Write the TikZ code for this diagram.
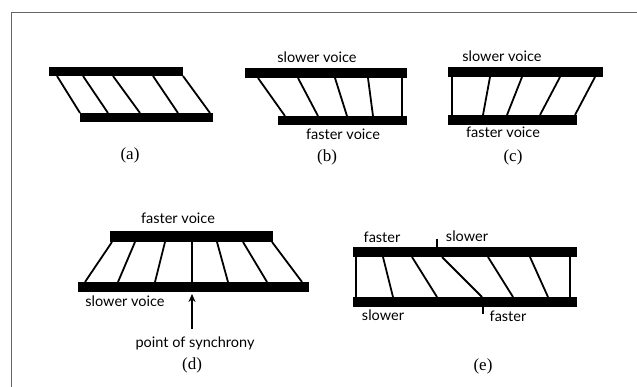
\documentclass[tikz,border=0pt]{standalone}
\usepackage{fontspec}
\setmainfont{Liberation Serif}
\newfontfamily\lblfont{Lato}
\usetikzlibrary{arrows.meta}
\begin{document}
\begin{tikzpicture}[x=1pt,y=-1pt,
  bar/.style={fill=black},
  strut/.style={draw=black,line width=1.8pt},
  lbl/.style={font=\lblfont\fontsize{14.5}{16}\selectfont,inner sep=0pt},
  captext/.style={font=\fontsize{17}{19}\selectfont,inner sep=0pt},
  frame/.style={draw=black!60,line width=1.5pt}]
\useasboundingbox (0,0) rectangle (637,387);
\draw[frame] (11.5,387) -- (11.5,12.5) -- (637,12.5);
% (a)
\fill[bar] (49,67) rectangle (183,76);
\fill[bar] (80,113) rectangle (213,122);
\foreach \a/\b in {57/80,83/108,113/140,153/178,183/210}
  \draw[strut] (\a,76) -- (\b,113);
\node[captext] (capa) at (130,155) {(a)};
% (b)
\fill[bar] (245,68) rectangle (407,78);
\fill[bar] (278,116) rectangle (407,125);
\foreach \a/\b in {258/285,298/318,335/347,368/373,402/402}
  \draw[strut] (\a,78) -- (\b,116);
\node[lbl] (bs) at (317,57) {slower voice};
\node[lbl] (bf) at (343,134) {faster voice};
\node[captext] (capb) at (327,157) {(b)};
% (c)
\fill[bar] (448,67) rectangle (603,77);
\fill[bar] (448,115) rectangle (577,125);
\foreach \a/\b in {452/452,490/483,522/507,560/540,595/575}
  \draw[strut] (\a,77) -- (\b,115);
\node[lbl] (cs) at (502,56) {slower voice};
\node[lbl] (cf) at (503,132) {faster voice};
\node[captext] (capc) at (513,157) {(c)};
% (d)
\fill[bar] (110,231) rectangle (273,242);
\fill[bar] (78,282) rectangle (309,292);
\foreach \a/\b in {112/85,135/118,165/155,192/192,217/228,243/267,272/302}
  \draw[strut] (\a,242) -- (\b,282);
\node[lbl] (df) at (178,218) {faster voice};
\node[lbl] (ds) at (125,301) {slower voice};
\coordinate (sync) at (192,294);
\node[lbl] (dp) at (195,343) {point of synchrony};
\draw[line width=1.8pt,-{Stealth[length=8pt,width=7pt]}] (192,329) -- (sync);
\node[captext] (capd) at (192,365) {(d)};
% (e)
\fill[bar] (353,247) rectangle (577,257);
\fill[bar] (353,297) rectangle (577,307);
\foreach \a/\b in {356/356,383/393,412/437,442/482,488/513,530/548,570/570}
  \draw[strut] (\a,257) -- (\b,297);
\draw[line width=1.4pt] (437,239) -- (437,247);
\draw[line width=1.4pt] (483,307) -- (483,314);
\node[lbl] (etf) at (382,237) {faster};
\node[lbl] (ets) at (467,236) {slower};
\node[lbl] (ebs) at (383,315) {slower};
\node[lbl] (ebf) at (508,316) {faster};
\node[captext] (cape) at (483,366) {(e)};
\end{tikzpicture}
\end{document}
